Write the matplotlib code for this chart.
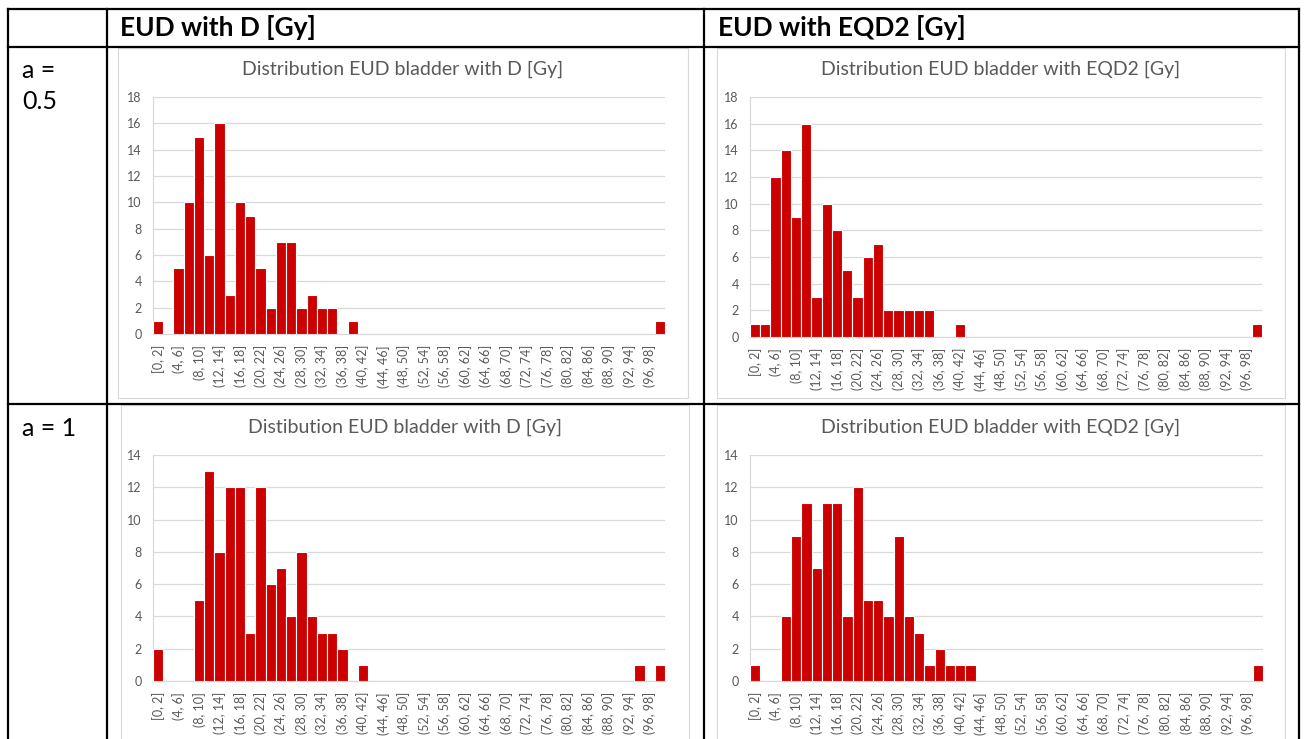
import matplotlib.pyplot as plt
from matplotlib.patches import Rectangle
from matplotlib.lines import Line2D

plt.rcParams['font.family'] = ['Lato', 'DejaVu Sans']

# EUD histogram counts, 2 Gy bins from 0 to 100 Gy
bin_edges = list(range(0, 102, 2))

eud_d_a05 = [1, 0, 5, 10, 15, 6, 16, 3, 10, 9,
             5, 2, 7, 7, 2, 3, 2, 2, 0, 1,
             0, 0, 0, 0, 0, 0, 0, 0, 0, 0,
             0, 0, 0, 0, 0, 0, 0, 0, 0, 0,
             0, 0, 0, 0, 0, 0, 0, 0, 0, 1]

eud_eqd2_a05 = [1, 1, 12, 14, 9, 16, 3, 10, 8, 5,
                3, 6, 7, 2, 2, 2, 2, 2, 0, 0,
                1, 0, 0, 0, 0, 0, 0, 0, 0, 0,
                0, 0, 0, 0, 0, 0, 0, 0, 0, 0,
                0, 0, 0, 0, 0, 0, 0, 0, 0, 1]

eud_d_a1 = [2, 0, 0, 0, 5, 13, 8, 12, 12, 3,
            12, 6, 7, 4, 8, 4, 3, 3, 2, 0,
            1, 0, 0, 0, 0, 0, 0, 0, 0, 0,
            0, 0, 0, 0, 0, 0, 0, 0, 0, 0,
            0, 0, 0, 0, 0, 0, 0, 1, 0, 1]

eud_eqd2_a1 = [1, 0, 0, 4, 9, 11, 7, 11, 11, 4,
               12, 5, 5, 4, 9, 4, 3, 1, 2, 1,
               1, 1, 0, 0, 0, 0, 0, 0, 0, 0,
               0, 0, 0, 0, 0, 0, 0, 0, 0, 0,
               0, 0, 0, 0, 0, 0, 0, 0, 0, 1]

col_headers = ['EUD with D [Gy]', 'EUD with EQD2 [Gy]']
row_headers = ['a =\n0.5', 'a = 1']
chart_titles = ['Distribution EUD bladder with D [Gy]',
                'Distribution EUD bladder with EQD2 [Gy]',
                'Distibution EUD bladder with D [Gy]',
                'Distribution EUD bladder with EQD2 [Gy]']
y_max = [18, 18, 14, 14]

bin_labels = []
for i in range(len(bin_edges) - 1):
    lo, hi = bin_edges[i], bin_edges[i + 1]
    bin_labels.append(f'[{lo}, {hi}]' if i == 0 else f'({lo}, {hi}]')

W, H = 1306, 739
fig = plt.figure(figsize=(W / 100, H / 100), dpi=100)
fig.patch.set_facecolor('white')


def fx(x):
    return x / W


def fy(y):
    return 1 - y / H


def hline(y, x0, x1, **kw):
    fig.add_artist(Line2D([fx(x0), fx(x1)], [fy(y), fy(y)], transform=fig.transFigure, **kw))


def vline(x, y0, y1, **kw):
    fig.add_artist(Line2D([fx(x), fx(x)], [fy(y0), fy(y1)], transform=fig.transFigure, **kw))


# chart areas (pixel boxes: left, top, right, bottom)
chart_boxes = [(118, 48, 688, 398), (717, 48, 1285, 398),
               (121, 405, 689, 745), (717, 405, 1285, 745)]
plot_boxes = [(153, 97, 665, 334), (750, 97, 1262, 337),
              (153, 455, 665, 681), (750, 455, 1263, 681)]
title_y = [69, 69, 427, 427]
series = [eud_d_a05, eud_eqd2_a05, eud_d_a1, eud_eqd2_a1]

text_grey = '#595959'
grid_grey = '#D9D9D9'

for k in range(4):
    l, t, r, b = chart_boxes[k]
    fig.add_artist(Rectangle((fx(l), fy(b)), fx(r) - fx(l), fy(t) - fy(b),
                             transform=fig.transFigure, facecolor='white',
                             edgecolor=grid_grey, linewidth=0.8, zorder=0))
    fig.text(fx((l + r) / 2), fy(title_y[k]), chart_titles[k], ha='center', va='center',
             fontsize=14, color=text_grey)

    pl, pt, pr, pb = plot_boxes[k]
    ax = fig.add_axes([fx(pl), fy(pb), fx(pr) - fx(pl), fy(pt) - fy(pb)])
    ax.set_facecolor('none')
    xs = list(range(len(series[k])))
    ax.bar(xs, series[k], width=1.0, color='#CC0000', edgecolor='white', linewidth=0.8, zorder=3)
    ax.set_xlim(-0.5, len(xs) - 0.5)
    ax.set_ylim(0, y_max[k])
    ax.set_yticks(range(0, y_max[k] + 1, 2))
    ax.set_xticks(xs[::2])
    ax.set_xticklabels(bin_labels[::2], rotation=90, fontsize=9, color=text_grey)
    ax.tick_params(axis='y', labelsize=9, colors=text_grey, length=0, pad=8)
    ax.tick_params(axis='x', length=0, pad=8)
    ax.grid(axis='y', color=grid_grey, linewidth=0.9, zorder=0)
    ax.set_axisbelow(True)
    for side in ['top', 'right']:
        ax.spines[side].set_visible(False)
    for side in ['left', 'bottom']:
        ax.spines[side].set_color(grid_grey)
        ax.spines[side].set_linewidth(0.9)

# table grid
lw = 1.6
hline(9, 8, 1299, color='black', linewidth=lw)
hline(47, 8, 1299, color='black', linewidth=lw)
hline(404, 8, 1299, color='black', linewidth=lw)
for x in [8, 107, 704, 1299]:
    vline(x, 9, 739, color='black', linewidth=lw)

fig.text(fx(120), fy(28), col_headers[0], ha='left', va='center', fontsize=19, fontweight='bold')
fig.text(fx(718), fy(28), col_headers[1], ha='left', va='center', fontsize=19, fontweight='bold')
fig.text(fx(22), fy(86), row_headers[0], ha='left', va='center', fontsize=18, linespacing=1.45)
fig.text(fx(22), fy(428), row_headers[1], ha='left', va='center', fontsize=18)

fig.savefig('out.png', dpi=100)
